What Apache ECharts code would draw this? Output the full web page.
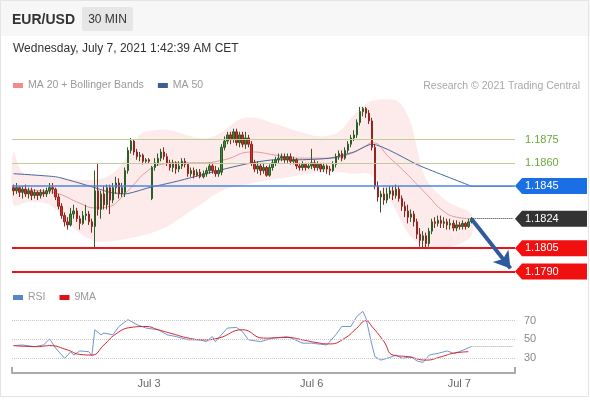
<!DOCTYPE html>
<html>
<head>
<meta charset="utf-8">
<title>EUR/USD 30 MIN</title>
<script src="https://cdn.jsdelivr.net/npm/echarts@6/dist/echarts.min.js"></script>
<style>
  html, body { margin: 0; padding: 0; background: #fff; }
  #chart { width: 590px; height: 400px; }
</style>
</head>
<body>
<div id="chart"></div>
<script>
// key levels
const resistance = [1.1875, 1.186]
const pivot = 1.1845
const lastPrice = 1.1824
const support = [1.1805, 1.179]

// x slots (30 min each) and day labels
const slotCount = 167
const tickIndex = [45, 99, 148]
const tickText = ['Jul 3', 'Jul 6', 'Jul 7']

// [open, close, low, high]
const candles = [
  [1.1844, 1.1842, 1.1839, 1.1846], [1.1842, 1.1844, 1.1840, 1.1847], [1.1844, 1.1841, 1.1838, 1.1845],
  [1.1841, 1.1843, 1.1837, 1.1845], [1.1843, 1.1840, 1.1838, 1.1846], [1.1840, 1.1842, 1.1837, 1.1844],
  [1.1842, 1.1839, 1.1836, 1.1844], [1.1839, 1.1841, 1.1837, 1.1843], [1.1841, 1.1839, 1.1836, 1.1842],
  [1.1839, 1.1841, 1.1837, 1.1843], [1.1841, 1.1840, 1.1838, 1.1843], [1.1840, 1.1842, 1.1838, 1.1844],
  [1.1842, 1.1844, 1.1840, 1.1847], [1.1844, 1.1843, 1.1840, 1.1847], [1.1843, 1.1838, 1.1836, 1.1844],
  [1.1838, 1.1832, 1.1830, 1.1840], [1.1832, 1.1826, 1.1824, 1.1834], [1.1826, 1.1822, 1.1819, 1.1828],
  [1.1822, 1.1820, 1.1817, 1.1825], [1.1820, 1.1827, 1.1819, 1.1831], [1.1827, 1.1829, 1.1824, 1.1833],
  [1.1829, 1.1824, 1.1822, 1.1831], [1.1824, 1.1821, 1.1817, 1.1826], [1.1821, 1.1826, 1.1820, 1.1829],
  [1.1826, 1.1827, 1.1823, 1.1833], [1.1827, 1.1822, 1.1820, 1.1829], [1.1822, 1.1819, 1.1815, 1.1824],
  [1.1819, 1.1842, 1.1805, 1.1855], [1.1842, 1.1830, 1.1826, 1.1860], [1.1830, 1.1840, 1.1824, 1.1842],
  [1.1840, 1.1833, 1.1830, 1.1845], [1.1833, 1.1844, 1.1830, 1.1846], [1.1844, 1.1836, 1.1827, 1.1846],
  [1.1836, 1.1844, 1.1834, 1.1847], [1.1844, 1.1847, 1.1840, 1.1851], [1.1847, 1.1840, 1.1837, 1.1850],
  [1.1840, 1.1844, 1.1838, 1.1847], [1.1841, 1.1855, 1.1838, 1.1857], [1.1855, 1.1868, 1.1853, 1.1870],
  [1.1868, 1.1874, 1.1866, 1.1876], [1.1874, 1.1867, 1.1865, 1.1875], [1.1867, 1.1864, 1.1862, 1.1869],
  [1.1864, 1.1865, 1.1861, 1.1867], [1.1865, 1.1861, 1.1859, 1.1866], [1.1861, 1.1862, 1.1860, 1.1863],
  [1.1862, 1.1861, 1.1860, 1.1863], [1.1837, 1.1857, 1.1836, 1.1858], [1.1857, 1.1860, 1.1855, 1.1863],
  [1.1860, 1.1863, 1.1858, 1.1866], [1.1863, 1.1867, 1.1861, 1.1869], [1.1867, 1.1864, 1.1862, 1.1870],
  [1.1864, 1.1860, 1.1858, 1.1866], [1.1860, 1.1857, 1.1855, 1.1862], [1.1857, 1.1860, 1.1854, 1.1862],
  [1.1860, 1.1856, 1.1853, 1.1861], [1.1856, 1.1858, 1.1854, 1.1861], [1.1858, 1.1861, 1.1856, 1.1863],
  [1.1861, 1.1859, 1.1857, 1.1863], [1.1859, 1.1853, 1.1851, 1.1860], [1.1853, 1.1855, 1.1851, 1.1857],
  [1.1855, 1.1852, 1.1850, 1.1857], [1.1852, 1.1854, 1.1851, 1.1856], [1.1854, 1.1851, 1.1850, 1.1856],
  [1.1851, 1.1853, 1.1850, 1.1855], [1.1853, 1.1855, 1.1851, 1.1857], [1.1855, 1.1858, 1.1853, 1.1860],
  [1.1858, 1.1855, 1.1853, 1.1860], [1.1855, 1.1853, 1.1851, 1.1858], [1.1853, 1.1855, 1.1851, 1.1857],
  [1.1854, 1.1870, 1.1852, 1.1872], [1.1870, 1.1874, 1.1868, 1.1877], [1.1874, 1.1878, 1.1872, 1.1880],
  [1.1878, 1.1875, 1.1872, 1.1880], [1.1875, 1.1880, 1.1873, 1.1882], [1.1880, 1.1873, 1.1871, 1.1882],
  [1.1873, 1.1878, 1.1870, 1.1880], [1.1878, 1.1872, 1.1870, 1.1880], [1.1872, 1.1876, 1.1869, 1.1880],
  [1.1876, 1.1872, 1.1870, 1.1878], [1.1872, 1.1860, 1.1858, 1.1874], [1.1860, 1.1856, 1.1854, 1.1862],
  [1.1856, 1.1858, 1.1853, 1.1861], [1.1858, 1.1855, 1.1852, 1.1860], [1.1855, 1.1857, 1.1853, 1.1860],
  [1.1857, 1.1852, 1.1851, 1.1858], [1.1852, 1.1857, 1.1851, 1.1859], [1.1857, 1.1860, 1.1855, 1.1862],
  [1.1860, 1.1862, 1.1858, 1.1864], [1.1862, 1.1863, 1.1860, 1.1866], [1.1863, 1.1864, 1.1861, 1.1866],
  [1.1864, 1.1862, 1.1860, 1.1866], [1.1862, 1.1864, 1.1860, 1.1866], [1.1864, 1.1861, 1.1859, 1.1866],
  [1.1861, 1.1862, 1.1859, 1.1864], [1.1862, 1.1858, 1.1856, 1.1863], [1.1858, 1.1857, 1.1855, 1.1860],
  [1.1857, 1.1859, 1.1855, 1.1861], [1.1859, 1.1857, 1.1855, 1.1860], [1.1857, 1.1858, 1.1856, 1.1860],
  [1.1858, 1.1860, 1.1856, 1.1869], [1.1860, 1.1857, 1.1855, 1.1862], [1.1857, 1.1859, 1.1855, 1.1861],
  [1.1859, 1.1856, 1.1854, 1.1860], [1.1856, 1.1858, 1.1854, 1.1860], [1.1858, 1.1856, 1.1853, 1.1859],
  [1.1856, 1.1855, 1.1852, 1.1858], [1.1855, 1.1859, 1.1854, 1.1861], [1.1859, 1.1864, 1.1857, 1.1866],
  [1.1864, 1.1866, 1.1862, 1.1868], [1.1866, 1.1863, 1.1861, 1.1868], [1.1863, 1.1868, 1.1862, 1.1870],
  [1.1868, 1.1872, 1.1866, 1.1874], [1.1872, 1.1876, 1.1870, 1.1878], [1.1876, 1.1878, 1.1874, 1.1881],
  [1.1878, 1.1886, 1.1876, 1.1888], [1.1886, 1.1893, 1.1884, 1.1896], [1.1893, 1.1895, 1.1890, 1.1896],
  [1.1895, 1.1892, 1.1889, 1.1896], [1.1892, 1.1887, 1.1885, 1.1894], [1.1887, 1.1870, 1.1868, 1.1889],
  [1.1870, 1.1845, 1.1843, 1.1872], [1.1845, 1.1838, 1.1835, 1.1848], [1.1838, 1.1840, 1.1828, 1.1842],
  [1.1840, 1.1836, 1.1833, 1.1844], [1.1836, 1.1840, 1.1834, 1.1844], [1.1840, 1.1842, 1.1837, 1.1845],
  [1.1842, 1.1839, 1.1836, 1.1845], [1.1839, 1.1843, 1.1837, 1.1846], [1.1843, 1.1837, 1.1835, 1.1845],
  [1.1837, 1.1832, 1.1829, 1.1839], [1.1832, 1.1829, 1.1825, 1.1835], [1.1829, 1.1825, 1.1821, 1.1833],
  [1.1825, 1.1827, 1.1822, 1.1830], [1.1827, 1.1822, 1.1819, 1.1829], [1.1822, 1.1814, 1.1811, 1.1824],
  [1.1814, 1.1810, 1.1806, 1.1818], [1.1810, 1.1813, 1.1805, 1.1816], [1.1813, 1.1808, 1.1805, 1.1815],
  [1.1808, 1.1816, 1.1806, 1.1818], [1.1816, 1.1822, 1.1814, 1.1824], [1.1822, 1.1821, 1.1818, 1.1825],
  [1.1821, 1.1823, 1.1819, 1.1826], [1.1823, 1.1821, 1.1818, 1.1826], [1.1821, 1.1822, 1.1818, 1.1825],
  [1.1822, 1.1820, 1.1817, 1.1824], [1.1820, 1.1821, 1.1817, 1.1824], [1.1821, 1.1818, 1.1816, 1.1823],
  [1.1818, 1.1820, 1.1816, 1.1823], [1.1820, 1.1819, 1.1817, 1.1822], [1.1819, 1.1821, 1.1817, 1.1823],
  [1.1821, 1.1819, 1.1817, 1.1822], [1.1819, 1.1822, 1.1818, 1.1824], [1.1822, 1.1824, 1.1821, 1.1825]
]

// indicator curves: [slot, value]
const bbUpper = [
  [0, 1.1867], [3, 1.1854], [9, 1.1852], [15, 1.1850], [25, 1.1849], [32, 1.1852], [37, 1.1862],
  [42, 1.1878], [47, 1.1881], [52, 1.1881], [59, 1.1877], [65, 1.1876], [70, 1.1881], [75, 1.1888],
  [80, 1.1889], [87, 1.1885], [95, 1.1880], [102, 1.1877], [108, 1.1880], [113, 1.1891], [118, 1.1899],
  [123, 1.1901], [128, 1.1899], [132, 1.1885], [134, 1.1869], [136, 1.1854], [139, 1.1844],
  [145, 1.1834], [152, 1.1827]
]
const bbLower = [
  [0, 1.1833], [5, 1.1835], [12, 1.1833], [19, 1.1820], [24, 1.1812], [29, 1.1809], [40, 1.1812],
  [49, 1.1817], [55, 1.1824], [62, 1.1833], [69, 1.1842], [75, 1.1845], [82, 1.1848], [89, 1.1850],
  [95, 1.1852], [102, 1.1854], [108, 1.1854], [113, 1.1853], [118, 1.1853], [122, 1.1846],
  [127, 1.1829], [132, 1.1812], [137, 1.1806], [142, 1.1805], [147, 1.1807], [152, 1.1813]
]
const ma20 = [
  [0, 1.1843], [9, 1.1842], [15, 1.1840], [22, 1.1834], [27, 1.1831], [32, 1.1832], [35, 1.1836],
  [39, 1.1844], [44, 1.1854], [49, 1.1859], [55, 1.1860], [62, 1.1860], [70, 1.1862], [79, 1.1867],
  [87, 1.1865], [95, 1.1863], [105, 1.1863], [112, 1.1866], [117, 1.1871], [119, 1.1873],
  [125, 1.1863], [130, 1.1854], [134, 1.1846], [138, 1.1838], [142, 1.1830], [147, 1.1825], [152, 1.1824]
]
const ma50 = [
  [0, 1.1853], [14, 1.1851], [20, 1.1848], [27, 1.1844], [32, 1.1841], [37, 1.1840], [45, 1.1844],
  [54, 1.1848], [62, 1.1852], [70, 1.1856], [79, 1.1860], [87, 1.1862], [95, 1.1862], [105, 1.1863],
  [113, 1.1867], [119, 1.1872], [135, 1.1858], [152, 1.1845]
]
const rsi = [
  [0, 43.3], [3, 44], [7, 42.2], [10, 44], [12, 50.5], [14, 40.5], [17, 29.7], [19, 36.8], [20, 33.2],
  [22, 37.6], [25, 36.8], [26, 32.5], [27, 60.3], [29, 54.9], [30, 56.7], [33, 54.9], [35, 63.8],
  [38, 71.1], [41, 65.7], [44, 62.1], [48, 60.3], [51, 54.9], [54, 53], [58, 49.5], [62, 49.5],
  [64, 47.6], [66, 53], [67, 47.6], [71, 62.1], [74, 62.8], [76, 58.4], [78, 49.5], [82, 47.6],
  [86, 51.3], [91, 53], [96, 45.9], [99, 45.9], [104, 44], [107, 54.9], [109, 63.8], [112, 63.8],
  [114, 74.6], [116, 80], [117, 72.9], [119, 44], [120, 31.4], [122, 27.8], [124, 29.7], [127, 33.2],
  [129, 29.7], [132, 31.4], [134, 26.8], [136, 25.3], [138, 33.2], [141, 35.1], [144, 37.6],
  [146, 35.1], [148, 36.8], [152, 42.2]
]
const rsiMa = [
  [0, 43.3], [8, 42.2], [12, 43.3], [18, 38.6], [22, 33.9], [26, 33.2], [30, 44], [34, 55.8],
  [39, 62.8], [44, 63.8], [48, 60.3], [53, 55.8], [58, 51.4], [63, 49.5], [68, 51.3], [76, 60.3],
  [83, 51.3], [91, 52], [96, 49.5], [100, 46.9], [105, 45.1], [110, 51.3], [114, 62.1], [117, 70],
  [119, 63.8], [123, 47.6], [126, 33.2], [131, 31.4], [137, 27.8], [142, 31.4], [146, 35.1], [151, 36.8]
]
const rsiLevels = [30, 50, 70]

const font = 'Liberation Sans, Arial, sans-serif'
const categories = Array.from({ length: slotCount }, (_, i) => String(i))
const lastIdx = candles.length - 1
const endIdx = slotCount - 1

// price tags on the right
const tagLevels = [...resistance, pivot, lastPrice, ...support]
const tagKinds = ['plain', 'plain', 'blue', 'dark', 'red', 'red']
const tagFill = { blue: '#1b6fe4', dark: '#333333', red: '#f01010' }

const chart = echarts.init(document.getElementById('chart'))

chart.setOption({
  animation: false,
  backgroundColor: '#fff',
  textStyle: { fontFamily: font },
  graphic: [
    { type: 'rect', z: -10, shape: { x: 0, y: 0, width: 590, height: 36 }, style: { fill: '#f7f7f7' } },
    { type: 'rect', z: -5, shape: { x: 0.5, y: 0.5, width: 588, height: 396 }, style: { fill: null, stroke: '#e4e4e4' } },
    { type: 'text', x: 12, y: 20, style: { text: 'EUR/USD', font: 'bold 14px ' + font, fill: '#333', verticalAlign: 'middle' } },
    { type: 'rect', shape: { x: 82, y: 7, width: 51, height: 24, r: 2 }, style: { fill: '#e6e6e6' } },
    { type: 'text', x: 107.5, y: 19.5, style: { text: '30 MIN', font: '12px ' + font, fill: '#333', align: 'center', verticalAlign: 'middle' } },
    { type: 'text', x: 13, y: 49, style: { text: 'Wednesday, July 7, 2021 1:42:39 AM CET', font: '12px ' + font, fill: '#333', verticalAlign: 'middle' } },
    { type: 'text', x: 580, y: 86, style: { text: 'Research © 2021 Trading Central', font: '10.5px ' + font, fill: '#a8a8a8', align: 'right', verticalAlign: 'middle' } }
  ],
  legend: [
    {
      left: 13, top: 80, padding: 0, itemWidth: 10, itemHeight: 5, itemGap: 14, icon: 'rect', selectedMode: false,
      textStyle: { color: '#999', fontSize: 10.5 },
      data: [
        { name: 'MA 20 + Bollinger Bands', itemStyle: { color: '#f08c8c' } },
        { name: 'MA 50', itemStyle: { color: '#3d5f92' } }
      ]
    },
    {
      left: 13, top: 292, padding: 0, itemWidth: 10, itemHeight: 5, itemGap: 14, icon: 'rect', selectedMode: false,
      textStyle: { color: '#999', fontSize: 10.5 },
      data: [
        { name: 'RSI', itemStyle: { color: '#5b84cf' } },
        { name: '9MA', itemStyle: { color: '#e0101a' } }
      ]
    }
  ],
  grid: [
    { left: 12, width: 503, top: 93, height: 194 },
    { left: 12, width: 503, top: 302, height: 71 }
  ],
  xAxis: [
    { type: 'category', gridIndex: 0, data: categories, show: false },
    {
      type: 'category', gridIndex: 1, data: categories, position: 'bottom',
      axisLine: { show: false }, axisTick: { show: false }, splitLine: { show: false },
      axisLabel: {
        interval: i => tickIndex.includes(i),
        formatter: v => { const k = tickIndex.indexOf(Number(v)); return k >= 0 ? tickText[k] : '' },
        color: '#666', fontSize: 11, margin: 5
      }
    },
    {
      type: 'value', gridIndex: 1, min: 0, max: 1, interval: 1, position: 'bottom',
      axisLine: { show: true, lineStyle: { color: '#aaa', width: 2 } },
      axisTick: { show: true, inside: true, length: 6, lineStyle: { color: '#aaa', width: 2 } },
      axisLabel: { show: false }, splitLine: { show: false }
    }
  ],
  yAxis: [
    { type: 'value', gridIndex: 0, min: 1.178, max: 1.1905, show: false },
    { type: 'value', gridIndex: 1, min: 14, max: 90, show: false }
  ],
  series: [
    {
      name: 'MA 20 + Bollinger Bands',
      type: 'custom',
      xAxisIndex: 0, yAxisIndex: 0,
      silent: true, clip: false, z: 1,
      data: [bbUpper[0]],
      renderItem: (params, api) => {
        const pts = bbUpper.map(p => api.coord(p)).concat(bbLower.slice().reverse().map(p => api.coord(p)))
        return { type: 'polygon', shape: { points: pts, smooth: 0.35 }, style: { fill: 'rgba(250, 185, 185, 0.3)' } }
      }
    },
    {
      name: 'MA 20 + Bollinger Bands',
      type: 'line', xAxisIndex: 0, yAxisIndex: 0, z: 2,
      data: ma20, smooth: true, symbol: 'none', silent: true,
      lineStyle: { color: '#e59a9a', width: 1 },
      markLine: {
        silent: true, symbol: ['none', 'none'], label: { show: false }, z: 5, precision: 4,
        data: [
          { yAxis: resistance[0], lineStyle: { color: '#bccf98', width: 1, type: 'solid' } },
          { yAxis: resistance[1], lineStyle: { color: '#bccf98', width: 1, type: 'solid' } },
          { yAxis: pivot, lineStyle: { color: '#4a86e6', width: 1.5, type: 'solid' } },
          { yAxis: support[0], lineStyle: { color: '#e8141c', width: 2, type: 'solid' } },
          { yAxis: support[1], lineStyle: { color: '#e8141c', width: 2, type: 'solid' } }
        ]
      }
    },
    {
      name: 'MA 50',
      type: 'line', xAxisIndex: 0, yAxisIndex: 0, z: 2,
      data: ma50, smooth: 0.2, symbol: 'none', silent: true,
      lineStyle: { color: '#45679c', width: 1 },
      markLine: {
        silent: true, symbol: ['none', 'none'], label: { show: false }, precision: 4,
        lineStyle: { color: '#45679c', type: 'dotted', width: 1 },
        data: [[{ coord: [String(lastIdx), ma50[ma50.length - 1][1]] }, { coord: [String(endIdx), pivot] }]]
      }
    },
    {
      name: 'EUR/USD',
      type: 'candlestick', xAxisIndex: 0, yAxisIndex: 0, z: 3,
      data: candles, barWidth: 2, silent: true,
      itemStyle: { color: '#43843a', color0: '#cc342b', borderColor: '#2e5c29', borderColor0: '#912620', borderWidth: 1 },
      markLine: {
        silent: true, symbol: ['none', 'none'], label: { show: false }, z: 6, precision: 4,
        data: [
          [
            { coord: [String(lastIdx), lastPrice], lineStyle: { color: '#333', width: 1, type: 'dotted' } },
            { coord: [String(endIdx), lastPrice] }
          ],
          [
            { coord: [String(lastIdx), lastPrice], symbol: 'none', lineStyle: { color: '#2d5b9d', width: 4, type: 'solid' } },
            { coord: ['165', 1.1792], symbol: 'arrow', symbolSize: [15, 16] }
          ]
        ]
      }
    },
    {
      name: 'levels',
      type: 'custom', xAxisIndex: 0, yAxisIndex: 0,
      silent: true, clip: false, z: 10,
      data: tagLevels.map(v => [0, v]),
      renderItem: (params, api) => {
        const level = api.value(1)
        const y = api.coord([0, level])[1]
        const x0 = params.coordSys.x + params.coordSys.width
        const kind = tagKinds[params.dataIndex]
        const label = level.toFixed(4)
        if (kind === 'plain') {
          return { type: 'text', x: x0 + 10, y: y, style: { text: label, fill: '#6aa83a', font: '11px ' + font, align: 'left', verticalAlign: 'middle' } }
        }
        return {
          type: 'group',
          children: [
            { type: 'polygon', shape: { points: [[x0, y], [x0 + 7, y - 8], [x0 + 72, y - 8], [x0 + 72, y + 8], [x0 + 7, y + 8]] }, style: { fill: tagFill[kind] } },
            { type: 'text', x: x0 + 10, y: y, style: { text: label, fill: '#fff', font: '11px ' + font, align: 'left', verticalAlign: 'middle' } }
          ]
        }
      }
    },
    {
      name: 'RSI',
      type: 'line', xAxisIndex: 1, yAxisIndex: 1,
      data: rsi, symbol: 'none', silent: true,
      lineStyle: { color: '#7195d6', width: 1 },
      markLine: {
        silent: true, symbol: ['none', 'none'], precision: 1,
        lineStyle: { color: '#c8c8c8', type: 'dotted', width: 1 },
        label: { show: true, position: 'end', formatter: '{c}', color: '#888', fontSize: 11, distance: 9 },
        data: rsiLevels.map(v => ({ yAxis: v })).concat([[
          { coord: [String(lastIdx), rsi[rsi.length - 1][1]], label: { show: false }, lineStyle: { color: '#aaa' } },
          { coord: [String(endIdx), rsi[rsi.length - 1][1]] }
        ]])
      }
    },
    {
      name: '9MA',
      type: 'line', xAxisIndex: 1, yAxisIndex: 1,
      data: rsiMa, smooth: true, symbol: 'none', silent: true,
      lineStyle: { color: '#d8232b', width: 1 }
    }
  ]
})
</script>
</body>
</html>
